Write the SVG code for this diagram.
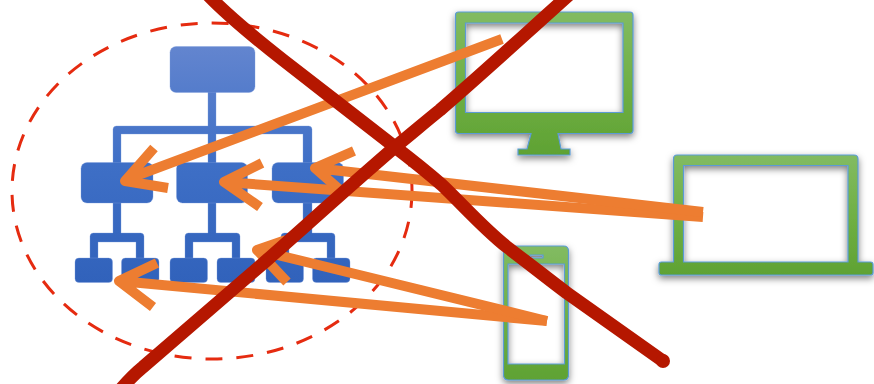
<svg xmlns="http://www.w3.org/2000/svg" width="874" height="384" viewBox="0 0 874 384">
<defs>
<linearGradient id="blue" gradientUnits="userSpaceOnUse" x1="0" y1="46" x2="0" y2="283"><stop offset="0" stop-color="#6385cf"/><stop offset="0.5" stop-color="#3e6fc6"/><stop offset="1" stop-color="#3162bb"/></linearGradient>
<linearGradient id="g1" gradientUnits="userSpaceOnUse" x1="0" y1="12" x2="0" y2="155"><stop offset="0" stop-color="#82bb62"/><stop offset="0.5" stop-color="#70b045"/><stop offset="1" stop-color="#5fa233"/></linearGradient>
<linearGradient id="g2" gradientUnits="userSpaceOnUse" x1="0" y1="155" x2="0" y2="275"><stop offset="0" stop-color="#82bb62"/><stop offset="0.5" stop-color="#70b045"/><stop offset="1" stop-color="#5fa233"/></linearGradient>
<linearGradient id="g3" gradientUnits="userSpaceOnUse" x1="0" y1="246" x2="0" y2="380"><stop offset="0" stop-color="#82bb62"/><stop offset="0.5" stop-color="#70b045"/><stop offset="1" stop-color="#5fa233"/></linearGradient>
<filter id="sh" x="-15%" y="-15%" width="130%" height="135%"><feDropShadow dx="0" dy="3" stdDeviation="3.500" flood-color="#000" flood-opacity="0.5"/></filter>
</defs>
<style>
.org{fill:url(#blue);stroke:#7c9cdc;stroke-width:0.5;stroke-opacity:0.7}
.dev{stroke:#5b9bd5;stroke-width:1.2;fill-rule:evenodd;filter:url(#sh)}
.ar{fill:none;stroke:#ed7d31;stroke-width:10;stroke-linejoin:round}
.x{fill:none;stroke:#b51700;stroke-width:13;stroke-linecap:butt}
</style>
<ellipse id="boundary" cx="212" cy="191" rx="200" ry="168" fill="none" stroke="#e52b10" stroke-width="3" stroke-dasharray="17 14"/>
<g id="org-chart">
<path class="org" d="M208 90V126H116.500Q113 126 113 129.500V165H121V134H208V165H216V134H303V165H312V129.500Q312 126 308.500 126H216V90Z"/>
<path class="org" d="M113 200V233H93.500Q90 233 90 236.500V260H98V242H136V260H144V236.500Q144 233 140.500 233H121V200Z"/>
<path class="org" d="M208 200V233H188.500Q185 233 185 236.500V260H193V242H232V260H240V236.500Q240 233 236.500 233H216V200Z"/>
<path class="org" d="M303 200V233H284.500Q281 233 281 236.500V260H289V242H327V260H335V236.500Q335 233 331.500 233H312V200Z"/>
<g id="node-root"><rect class="org" x="170" y="46.500" width="85" height="46" rx="6"/></g>
<g id="node-mid-1"><rect class="org" x="81" y="162.500" width="72" height="40.500" rx="6"/></g>
<g id="node-mid-2"><rect class="org" x="176.500" y="162.500" width="71" height="40.500" rx="6"/></g>
<g id="node-mid-3"><rect class="org" x="272" y="162.500" width="71.500" height="40.500" rx="6"/></g>
<g id="node-leaf-1"><rect class="org" x="75" y="258" width="37.500" height="24.500" rx="4"/></g>
<g id="node-leaf-2"><rect class="org" x="121.500" y="258" width="37.500" height="24.500" rx="4"/></g>
<g id="node-leaf-3"><rect class="org" x="170" y="258" width="37.500" height="24.500" rx="4"/></g>
<g id="node-leaf-4"><rect class="org" x="217" y="258" width="38" height="24.500" rx="4"/></g>
<g id="node-leaf-5"><rect class="org" x="266" y="258" width="37.500" height="24.500" rx="4"/></g>
<g id="node-leaf-6"><rect class="org" x="312.500" y="258" width="37.500" height="24.500" rx="4"/></g>
</g>
<g id="node-monitor"><path class="dev" fill="url(#g1)" d="M458.500 12H630Q633 12 633 15V130.500Q633 133.500 630 133.500H558L561 149H570V155H518V149H527L531 133.500H458.500Q455.500 133.500 455.500 130.500V15Q455.500 12 458.500 12ZM465.500 23V112.500H623V23Z"/></g>
<g id="node-laptop"><path class="dev" fill="url(#g2)" d="M677 155H854Q858 155 858 159V262H870.500Q873 262 873 264.500V272.500Q873 275 870.500 275H661.500Q659 275 659 272.500V264.500Q659 262 661.500 262H673.500V159Q673.500 155 677 155ZM683.500 165.500V262H848V165.500Z"/></g>
<g id="node-phone"><path class="dev" fill="url(#g3)" d="M508.500 246H563.500Q568.500 246 568.500 251V375Q568.500 380 563.500 380H508.500Q503.500 380 503.500 375V251Q503.500 246 508.500 246ZM508 264V364H564.500V264ZM530 255V258H543V255Z"/></g>
<g id="connectors">
<path class="ar" d="M502 39L125 180M154 148L125 181L168 188"/>
<path class="ar" d="M703 217L224 182M262 163L224 182L260 207"/>
<path class="ar" d="M703 212L315 168M354 151L315 168L340 190"/>
<path class="ar" d="M547 321L119 281M157 263L119 281L153 307"/>
<path class="ar" d="M547 321L257 250M286 240L257 250L287 282"/>
<path class="x" d="M207 -6C225 13 255 38 283 60C320 89 358 118 395 147C412 160 427 172 442 185C462 204 484 229 507 247C527 262 547 278 567 293L663 361"/>
<path class="x" d="M112 400C122 387 132 376 143 367L267 260C310 222 352 184 395 147C410 135 425 122 440 110C482 74 522 37 570 -6"/>
<circle cx="663" cy="361" r="7" fill="#b51700"/>
</g>
</svg>
